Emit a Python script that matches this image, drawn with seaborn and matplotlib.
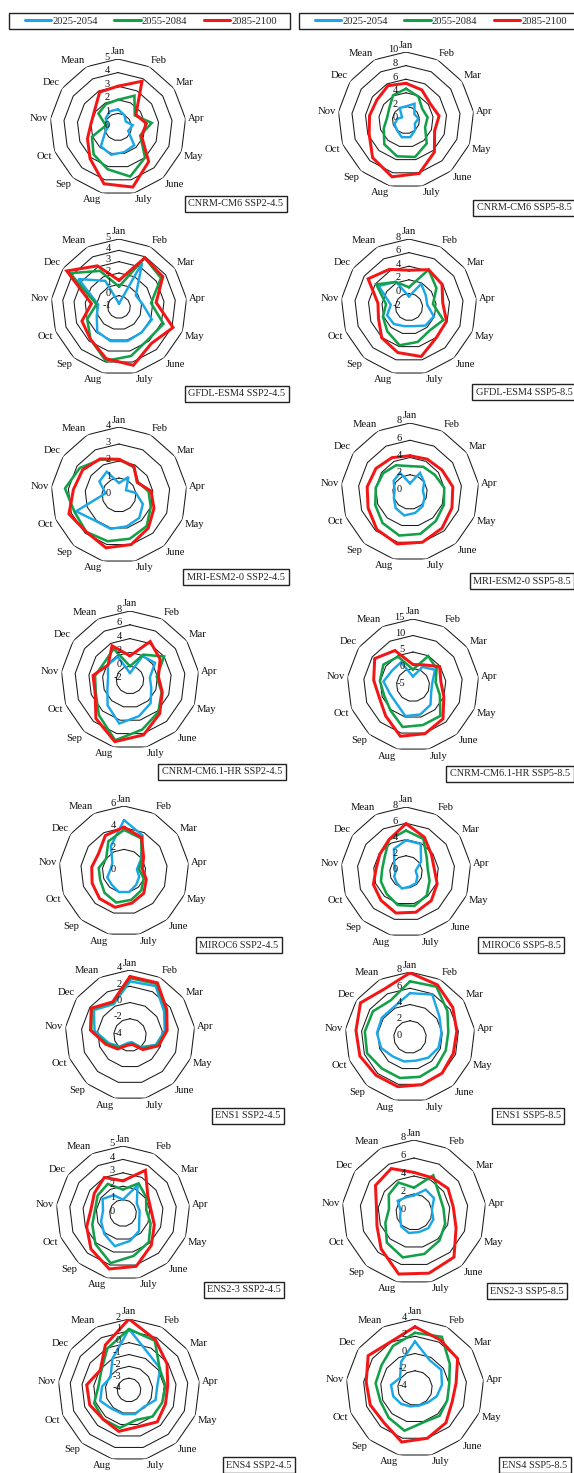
import numpy as np
import pandas as pd
import matplotlib
matplotlib.use("Agg")
import matplotlib.pyplot as plt
from matplotlib.lines import Line2D
from matplotlib.patches import Rectangle
from matplotlib.transforms import offset_copy
import seaborn as sns

sns.set_theme(style="white")
plt.rcParams["font.family"] = ["Liberation Serif", "DejaVu Serif"]

# ---------------------------------------------------------------- categories
months = ["Jan", "Feb", "Mar", "Apr", "May", "June", "July",
          "Aug", "Sep", "Oct", "Nov", "Dec", "Mean"]
periods = ["2025-2054", "2055-2084", "2085-2100"]

# ---------------------------------------------------------------- series values
cnrm_cm6_245_early = [1.3, 1.0, 0.7, 1.1, 0.8, 1.8, 1.9, 2.1, 1.9, 1.0, 0.7, 1.1, 1.3]
cnrm_cm6_245_mid = [2.0, 2.6, 1.5, 2.5, 1.75, 3.0, 3.75, 3.2, 2.7, 2.05, 0.9, 1.75, 1.9]
cnrm_cm6_245_late = [3.0, 3.8, 1.6, 2.1, 1.85, 3.4, 4.55, 4.3, 3.1, 2.4, 2.0, 2.1, 2.9]

cnrm_cm6_585_early = [2.0, 2.7, 1.5, 1.85, 1.4, 2.0, 2.6, 2.6, 2.0, 1.8, 1.3, 0.7, 2.0]
cnrm_cm6_585_mid = [4.6, 3.9, 2.9, 3.2, 3.0, 4.6, 5.6, 5.5, 4.8, 3.5, 2.8, 3.0, 4.1]
cnrm_cm6_585_late = [5.4, 5.0, 4.3, 4.9, 4.5, 6.3, 8.1, 8.6, 7.4, 5.8, 5.4, 5.2, 5.7]

gfdl_245_early = [-0.7, 3.4, 0.8, 1.1, 2.1, 2.0, 2.1, 2.1, 1.9, 1.1, 0.85, 3.35, 1.6]
gfdl_245_mid = [0.8, 3.9, 3.5, 1.85, 3.2, 2.85, 3.45, 3.9, 2.8, 2.0, 1.0, 4.25, 2.6]
gfdl_245_late = [1.35, 3.9, 3.7, 2.3, 4.1, 3.3, 4.3, 3.7, 2.8, 2.5, 1.45, 4.6, 3.1]

gfdl_585_early = [-0.45, 1.85, 1.0, 0.7, 1.9, 1.65, 0.9, 0.9, 1.35, 1.45, 0.7, 3.4, 2.2]
gfdl_585_mid = [0.9, 4.2, 2.9, 1.55, 3.4, 2.6, 3.3, 3.8, 2.8, 2.1, 1.4, 3.85, 2.15]
gfdl_585_late = [3.4, 4.2, 3.9, 3.0, 3.9, 4.05, 5.5, 4.9, 4.05, 2.8, 2.6, 5.3, 4.25]

mri_245_early = [0.7, 1.2, 0.5, 1.0, 1.5, 1.8, 1.9, 2.05, 2.05, 2.7, 0.8, 1.4, 1.55]
mri_245_mid = [2.1, 1.85, 1.35, 1.75, 2.0, 2.45, 2.65, 2.8, 2.9, 2.8, 3.2, 2.8, 2.35]
mri_245_late = [2.1, 1.9, 1.3, 1.9, 2.2, 2.6, 3.0, 3.2, 2.9, 3.15, 2.7, 2.6, 2.4]

mri_585_early = [1.0, 2.5, 2.0, 1.5, 1.8, 2.2, 2.5, 2.8, 2.5, 2.0, 1.8, 2.3, 2.5]
mri_585_mid = [3.0, 3.3, 3.5, 4.0, 4.2, 4.5, 5.0, 5.2, 4.8, 4.3, 4.0, 3.8, 3.5]
mri_585_late = [4.2, 4.3, 4.5, 5.0, 5.2, 5.6, 6.0, 6.2, 5.8, 5.2, 5.0, 4.8, 4.5]

cnrm_hr_245_early = [-1.0, 1.9, 2.4, 0.9, 1.3, 2.5, 3.4, 4.5, 2.9, 1.5, 1.2, 1.9, 1.8]
cnrm_hr_245_mid = [0.0, 2.15, 4.0, 1.9, 2.9, 4.2, 5.4, 7.0, 4.8, 3.3, 3.1, 2.5, 3.1]
cnrm_hr_245_late = [1.5, 4.3, 3.3, 2.15, 3.0, 4.5, 6.2, 7.2, 5.45, 3.4, 3.4, 1.85, 3.6]

cnrm_hr_585_early = [-2.4, 1.2, 3.1, 0.9, 0.9, 3.0, 4.2, 4.7, 2.5, 2.5, 4.0, 2.7, 2.8]
cnrm_hr_585_mid = [-0.3, 4.9, 3.7, 1.9, 3.7, 7.5, 7.5, 8.1, 5.3, 4.3, 5.1, 5.9, 4.7]
cnrm_hr_585_late = [1.2, 1.9, 4.8, 3.5, 5.0, 8.7, 10.2, 11.0, 7.5, 5.9, 7.0, 9.1, 6.8]

miroc_245_early = [4.7, 3.7, 1.9, 1.2, 1.5, 1.7, 2.0, 2.0, 1.7, 1.65, 1.25, 1.3, 2.6]
miroc_245_mid = [3.8, 3.4, 2.0, 1.4, 1.95, 2.4, 2.75, 3.0, 2.7, 2.35, 2.35, 2.0, 3.1]
miroc_245_late = [4.05, 3.5, 2.2, 1.7, 2.2, 2.75, 3.05, 3.45, 3.4, 3.15, 3.0, 2.85, 3.7]

miroc_585_early = [3.9, 3.9, 2.25, 1.2, 1.5, 1.85, 1.85, 2.1, 1.75, 1.55, 1.25, 1.75, 3.2]
miroc_585_mid = [5.1, 4.6, 3.1, 2.7, 3.1, 3.85, 4.3, 4.2, 3.6, 3.3, 2.95, 3.2, 4.5]
miroc_585_late = [5.95, 4.85, 3.8, 3.5, 4.1, 4.7, 5.1, 5.2, 4.65, 4.3, 3.7, 3.9, 4.5]

ens1_245_early = [2.6, 2.8, 1.1, 0.3, -0.6, -2.0, -3.1, -3.0, -2.1, -1.2, 0.4, 1.4, 0.3]
ens1_245_mid = [3.0, 3.1, 1.4, 0.5, -0.4, -1.8, -2.9, -2.8, -1.9, -1.0, 0.8, 1.7, 0.5]
ens1_245_late = [3.2, 3.25, 1.5, 0.6, -0.25, -1.6, -2.8, -2.7, -1.7, -0.8, 0.9, 1.8, 0.6]

ens1_585_early = [5.4, 5.9, 4.4, 3.9, 3.75, 3.4, 3.0, 3.1, 3.2, 3.8, 4.1, 4.2, 4.2]
ens1_585_mid = [6.85, 7.0, 5.6, 4.75, 4.7, 4.9, 5.05, 5.2, 5.2, 5.65, 5.6, 5.55, 5.1]
ens1_585_late = [7.9, 7.25, 6.4, 5.8, 5.7, 5.95, 6.05, 6.3, 6.3, 6.6, 6.7, 7.4, 6.7]

ens23_245_early = [1.0, 2.35, 1.25, 1.25, 1.3, 1.8, 2.15, 2.55, 2.1, 1.75, 1.5, 1.85, 1.5]
ens23_245_mid = [1.75, 2.5, 2.1, 1.75, 2.2, 2.9, 3.3, 3.85, 3.1, 2.45, 2.1, 2.3, 2.45]
ens23_245_late = [2.4, 3.6, 2.25, 2.1, 2.5, 3.2, 4.1, 4.3, 3.6, 2.9, 2.4, 2.6, 3.0]

ens23_585_early = [1.85, 2.8, 2.7, 2.0, 2.3, 2.4, 2.3, 2.4, 2.15, 1.65, 1.5, 2.2, 1.85]
ens23_585_mid = [2.7, 4.6, 3.4, 3.3, 3.7, 4.25, 4.8, 5.2, 4.55, 3.4, 2.8, 3.4, 3.7]
ens23_585_late = [4.4, 4.3, 4.6, 4.4, 5.0, 6.7, 7.0, 7.1, 5.5, 4.4, 4.2, 5.2, 5.45]

ens4_245_early = [1.15, -0.5, -0.8, -1.6, -1.6, -2.1, -1.9, -1.9, -1.85, -1.4, -1.7, -2.1, -1.0]
ens4_245_mid = [1.15, 0.7, -0.85, -0.9, -1.0, -1.0, -1.4, -0.7, -0.7, -0.85, -1.4, -1.15, -0.05]
ens4_245_late = [2.0, 0.8, -0.1, -0.7, -0.7, -0.4, -0.8, -0.4, -0.7, -0.45, -0.4, -1.05, 0.3]

ens4_585_early = [1.4, -0.35, -0.3, -0.85, -1.3, -1.75, -1.9, -1.8, -1.55, -1.3, -1.2, -1.9, -0.55]
ens4_585_mid = [2.4, 2.7, 0.9, 0.0, 0.0, 0.3, 0.1, 1.1, 0.6, 0.3, 0.6, 0.7, 1.5]
ens4_585_late = [3.1, 2.3, 2.0, 0.8, 0.6, 1.4, 2.0, 2.45, 1.4, 1.55, 1.7, 2.6, 2.05]

# ---------------------------------------------------------------- radial ticks
ticks_0_5 = [0, 1, 2, 3, 4, 5]
ticks_0_10 = [0, 2, 4, 6, 8, 10]
ticks_m1_5 = [-1, 0, 1, 2, 3, 4, 5]
ticks_m2_8 = [-2, 0, 2, 4, 6, 8]
ticks_0_4 = [0, 1, 2, 3, 4]
ticks_0_8 = [0, 2, 4, 6, 8]
ticks_m5_15 = [-5, 0, 5, 10, 15]
ticks_0_6 = [0, 2, 4, 6]
ticks_m4_4 = [-4, -2, 0, 2, 4]
ticks_m4_2 = [-4, -3, -2, -1, 0, 1, 2]

# ---------------------------------------------------------------- styling
W, H, DPI = 574, 1473, 100
palette = {"2025-2054": "#1aa7e8", "2055-2084": "#12a049", "2085-2100": "#f31616"}
widths = {"2025-2054": 1.75, "2055-2084": 1.85, "2085-2100": 2.15}
FS_CAT, FS_TICK, FS_BOX, FS_LEG = 7.7, 7.5, 7.4, 7.6

# (title, series, ticks, centre x, centre y, radius, box centre x, box centre y) in pixels
panels = [
    ("CNRM-CM6 SSP2-4.5", (cnrm_cm6_245_early, cnrm_cm6_245_mid, cnrm_cm6_245_late), ticks_0_5, 118, 127, 68, 236, 204),
    ("CNRM-CM6 SSP5-8.5", (cnrm_cm6_585_early, cnrm_cm6_585_mid, cnrm_cm6_585_late), ticks_0_10, 406, 120, 68, 524, 208),
    ("GFDL-ESM4 SSP2-4.5", (gfdl_245_early, gfdl_245_mid, gfdl_245_late), ticks_m1_5, 119, 307, 68, 237, 394),
    ("GFDL-ESM4 SSP5-8.5", (gfdl_585_early, gfdl_585_mid, gfdl_585_late), ticks_m2_8, 409, 307, 68, 524, 392),
    ("MRI-ESM2-0 SSP2-4.5", (mri_245_early, mri_245_mid, mri_245_late), ticks_0_4, 119, 495, 68, 236, 577),
    ("MRI-ESM2-0 SSP5-8.5", (mri_585_early, mri_585_mid, mri_585_late), ticks_0_8, 410, 492, 69, 522, 581),
    ("CNRM-CM6.1-HR SSP2-4.5", (cnrm_hr_245_early, cnrm_hr_245_mid, cnrm_hr_245_late), ticks_m2_8, 130, 680, 69, 222, 772),
    ("CNRM-CM6.1-HR SSP5-8.5", (cnrm_hr_585_early, cnrm_hr_585_mid, cnrm_hr_585_late), ticks_m5_15, 413, 685, 66, 510, 774),
    ("MIROC6 SSP2-4.5", (miroc_245_early, miroc_245_mid, miroc_245_late), ticks_0_6, 124, 871, 65, 239, 945),
    ("MIROC6 SSP5-8.5", (miroc_585_early, miroc_585_mid, miroc_585_late), ticks_0_8, 406, 872, 65, 521, 945),
    ("ENS1 SSP2-4.5", (ens1_245_early, ens1_245_mid, ens1_245_late), ticks_m4_4, 130, 1035, 65, 248, 1116),
    ("ENS1 SSP5-8.5", (ens1_585_early, ens1_585_mid, ens1_585_late), ticks_0_8, 410, 1037, 65, 528, 1116),
    ("ENS2-3 SSP2-4.5", (ens23_245_early, ens23_245_mid, ens23_245_late), ticks_0_5, 123, 1213, 67, 244, 1290),
    ("ENS2-3 SSP5-8.5", (ens23_585_early, ens23_585_mid, ens23_585_late), ticks_0_8, 414, 1212, 72, 527, 1291),
    ("ENS4 SSP2-4.5", (ens4_245_early, ens4_245_mid, ens4_245_late), ticks_m4_2, 129, 1390, 71, 259, 1465),
    ("ENS4 SSP5-8.5", (ens4_585_early, ens4_585_mid, ens4_585_late), ticks_m4_4, 415, 1388, 69, 535, 1465),
]

fig = plt.figure(figsize=(W / DPI, H / DPI), dpi=DPI)
fig.patch.set_facecolor("white")

n = len(months)
theta = np.arange(n) * 2 * np.pi / n
theta_closed = np.append(theta, 2 * np.pi)

for title, series, ticks, cx, cy, R, bx, by in panels:
    ax = fig.add_axes([(cx - R) / W, 1 - (cy + R) / H, 2 * R / W, 2 * R / H],
                      projection="polar")
    ax.set_theta_zero_location("N")
    ax.set_theta_direction(-1)
    rmin, rmax = ticks[0], ticks[-1]
    ax.set_ylim(rmin, rmax)
    ax.grid(False)
    ax.set_xticks([])
    ax.set_yticks([])
    ax.spines["polar"].set_visible(False)
    ax.patch.set_alpha(0)

    # polygonal rings
    for t in ticks[1:]:
        ax.plot(theta_closed, np.full(n + 1, t), color="#1a1a1a", lw=0.75, zorder=1)

    # the three periods as closed polygons
    frames = []
    for name, vals in zip(periods, series):
        v = list(vals) + [vals[0]]
        frames.append(pd.DataFrame({"theta": theta_closed, "value": v, "period": name}))
    df = pd.concat(frames, ignore_index=True)
    sns.lineplot(data=df, x="theta", y="value", hue="period", hue_order=periods,
                 palette=palette, sort=False, estimator=None, legend=False,
                 ax=ax, zorder=3)
    for line, name in zip(ax.get_lines()[len(ticks) - 1:], periods):
        line.set_linewidth(widths[name])
        line.set_solid_joinstyle("miter")
    ax.set_xlabel("")
    ax.set_ylabel("")
    ax.set_ylim(rmin, rmax)

    # radial value labels along the Jan axis
    tr = offset_copy(ax.transData, fig=fig, x=-8, y=2, units="dots")
    for t in ticks:
        ax.text(0, t, f"{t:g}", transform=tr, ha="right", va="center",
                fontsize=FS_TICK, color="#111111", zorder=4)

    # category labels around the rim
    for k, lab in enumerate(months):
        s, c = np.sin(theta[k]), np.cos(theta[k])
        ha = "center" if abs(s) < 0.1 else ("left" if s > 0 else "right")
        va = "bottom" if c > 0.3 else ("top" if c < -0.3 else "center")
        trc = offset_copy(ax.transData, fig=fig, x=2.5 * s, y=2.5 * c, units="dots")
        ax.text(theta[k], rmax, lab, transform=trc, ha=ha, va=va,
                fontsize=FS_CAT, color="#111111")

    # boxed panel title
    fig.text(bx / W, 1 - by / H, title, ha="center", va="center", fontsize=FS_BOX,
             bbox=dict(boxstyle="square,pad=0.35", fc="white", ec="#222222", lw=1.0))

# legends above each column, each inside a plain rectangle
handles = [Line2D([0], [0], color=palette[p], lw=2.2) for p in periods]
for bx0 in (9, 299):
    fig.patches.append(Rectangle((bx0 / W, 1 - 29 / H), 281 / W, 16 / H,
                                 transform=fig.transFigure, fill=False,
                                 ec="#222222", lw=1.0))
    fig.legend(handles, periods, loc="center left",
               bbox_to_anchor=((bx0 + 16) / W, 1 - 21 / H), ncol=3, frameon=False,
               fontsize=FS_LEG, handlelength=2.5, handletextpad=0.1,
               columnspacing=1.55, borderpad=0.0, borderaxespad=0)

fig.savefig("out.png", dpi=DPI, facecolor="white")
